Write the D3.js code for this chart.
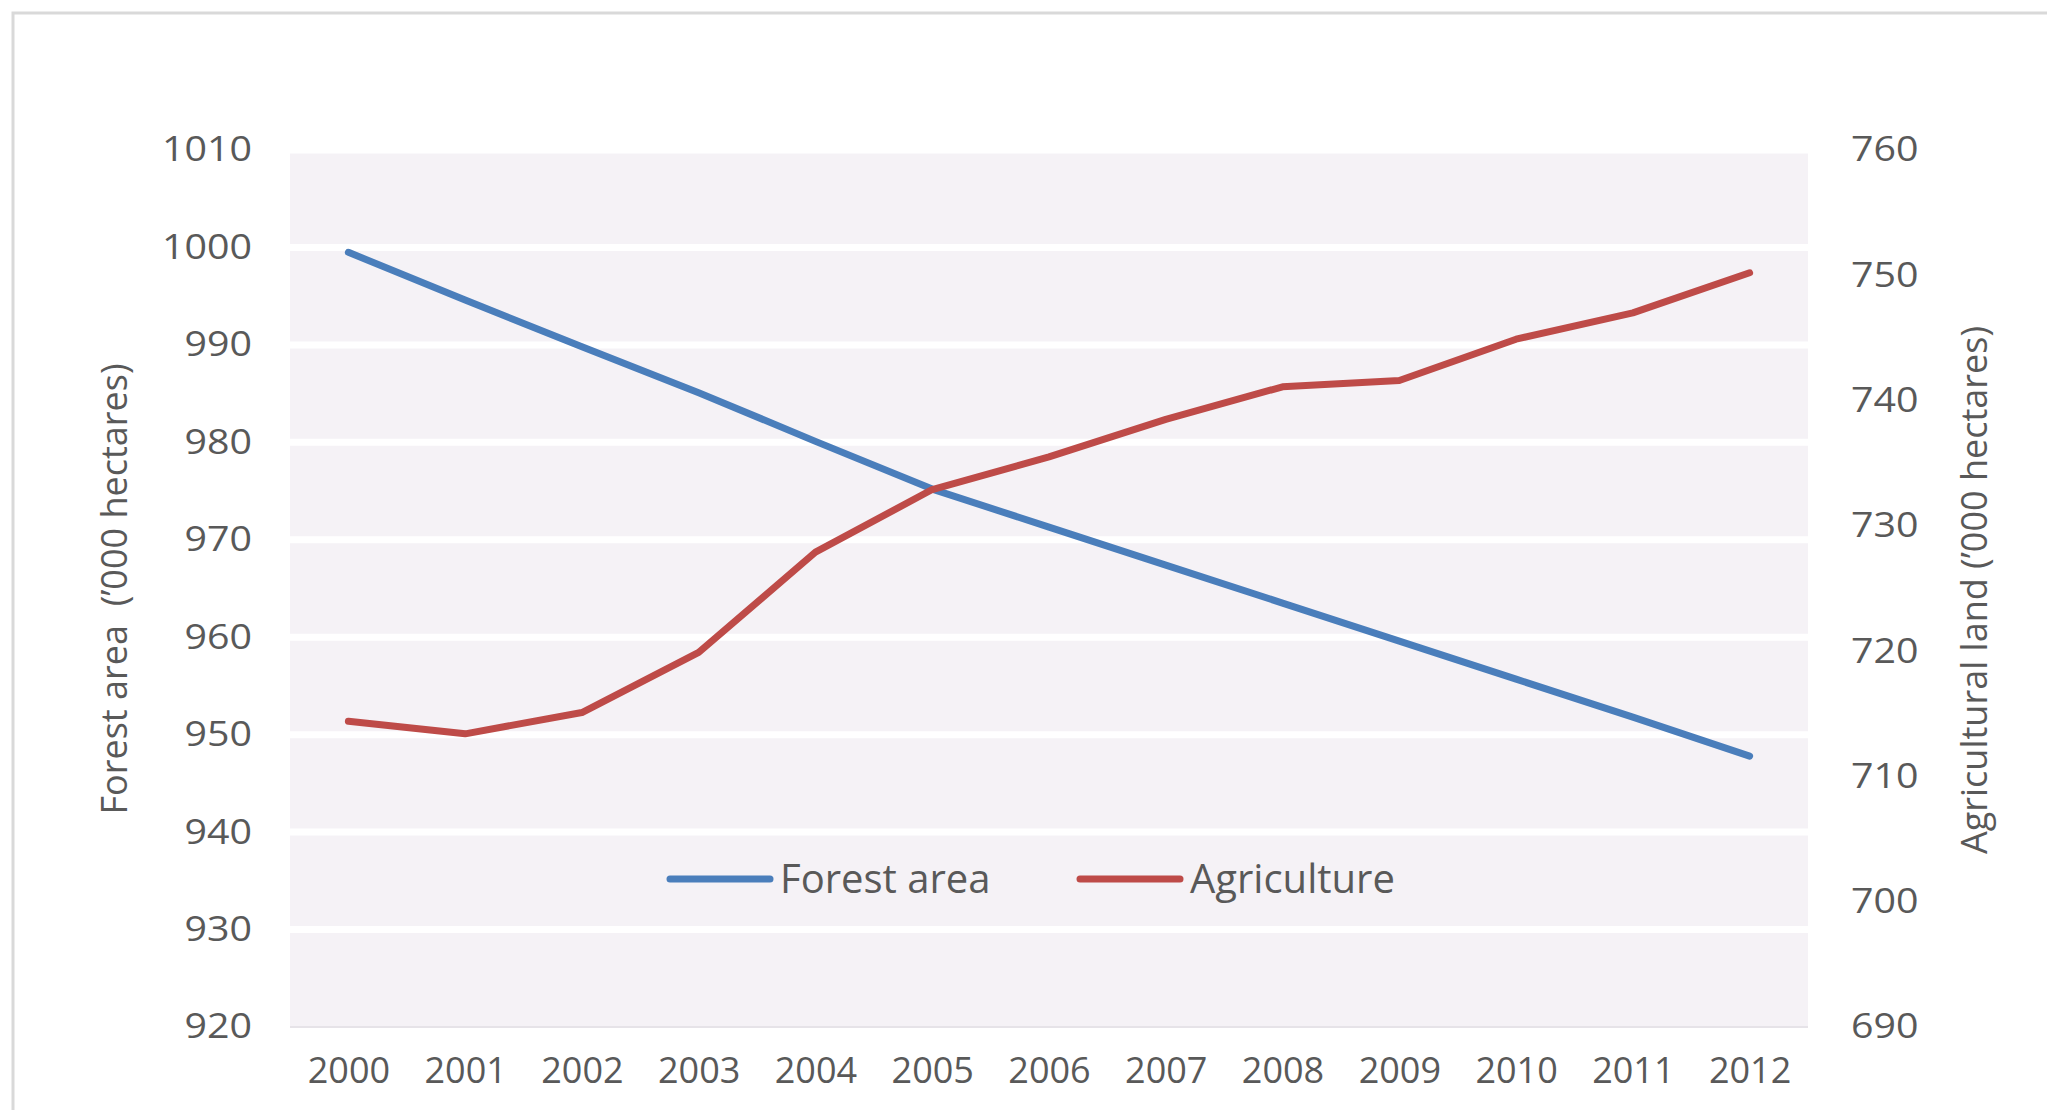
<!DOCTYPE html>
<meta charset="utf-8">
<style>
body {
  margin: 0;
  background: #fff;
  font-family: "Open Sans", "DejaVu Sans", sans-serif;
}
.tick text {
  fill: #595959;
  font-size: 36px;
}
.yaxis .tick text {
  font-size: 34px;
}
.axis-title {
  fill: #595959;
  font-size: 36px;
}
.legend text {
  fill: #595959;
  font-size: 40px;
}
</style>
<body>
<script src="https://d3js.org/d3.v7.min.js"></script>
<script>

var width = 2047,
    height = 1110;

// data
var years = ["2000", "2001", "2002", "2003", "2004", "2005", "2006",
             "2007", "2008", "2009", "2010", "2011", "2012"];
var forest = [999.5, 994.6, 989.8, 985.1, 980.1, 975.2, 971.3,
              967.4, 963.5, 959.6, 955.7, 951.8, 947.8];
var agriculture = [714.4, 713.4, 715.1, 719.9, 727.9, 732.9, 735.5,
                   738.5, 741.1, 741.6, 744.9, 747.0, 750.2];
var leftTicks = [920, 930, 940, 950, 960, 970, 980, 990, 1000, 1010];
var rightTicks = [690, 700, 710, 720, 730, 740, 750, 760];
var seriesNames = ["Forest area", "Agriculture"];
var colors = ["#4a7ebb", "#be4b48"];

var plot = {left: 290, right: 1808, top: 150, bottom: 1027};

var svg = d3.select("body").append("svg")
    .attr("width", width)
    .attr("height", height);

// outer frame
svg.append("rect")
    .attr("x", 13)
    .attr("y", 13)
    .attr("width", width)
    .attr("height", height)
    .attr("fill", "none")
    .attr("stroke", "#d9d9d9")
    .attr("stroke-width", 3);

var x = d3.scalePoint()
    .domain(years)
    .range([plot.left, plot.right])
    .padding(0.5);

var yLeft = d3.scaleLinear()
    .domain([920, 1010])
    .range([plot.bottom, plot.top]);

var yRight = d3.scaleLinear()
    .domain([690, 760])
    .range([plot.bottom, plot.top]);

// plot background
svg.append("rect")
    .attr("x", plot.left)
    .attr("y", plot.top)
    .attr("width", plot.right - plot.left)
    .attr("height", plot.bottom - plot.top)
    .attr("fill", "#f5f2f6");

// white gridlines
svg.append("g")
  .selectAll("line")
  .data(leftTicks.slice(1))
  .join("line")
    .attr("x1", plot.left)
    .attr("x2", plot.right)
    .attr("y1", function(d) { return yLeft(d); })
    .attr("y2", function(d) { return yLeft(d); })
    .attr("stroke", "#ffffff")
    .attr("stroke-width", 7);

svg.append("line")
    .attr("x1", plot.left)
    .attr("x2", plot.right)
    .attr("y1", plot.bottom)
    .attr("y2", plot.bottom)
    .attr("stroke", "#e6e3e8")
    .attr("stroke-width", 2);

var leftAxis = svg.append("g")
    .attr("class", "yaxis")
    .attr("transform", "translate(" + (plot.left - 38) + ",0)")
    .call(d3.axisLeft(yLeft).tickValues(leftTicks).tickFormat(d3.format("d"))
      .tickSize(0).tickPadding(0));

var rightAxis = svg.append("g")
    .attr("class", "yaxis")
    .attr("transform", "translate(" + (plot.right + 43) + ",0)")
    .call(d3.axisRight(yRight).tickValues(rightTicks).tickFormat(d3.format("d"))
      .tickSize(0).tickPadding(0));

var bottomAxis = svg.append("g")
    .attr("transform", "translate(0," + (plot.bottom + 30) + ")")
    .call(d3.axisBottom(x).tickSize(0).tickPadding(0));

[leftAxis, rightAxis, bottomAxis].forEach(function(a) {
  a.select(".domain").remove();
  a.attr("font-family", null).attr("font-size", null);
});

// the y labels in the picture are drawn wide
svg.selectAll(".yaxis .tick text")
    .attr("textLength", function() { return this.textContent.length * 22.5; })
    .attr("lengthAdjust", "spacingAndGlyphs");

svg.append("text")
    .attr("class", "axis-title")
    .attr("text-anchor", "middle")
    .attr("transform", "translate(114,589)rotate(-90)")
    .attr("dy", "0.35em")
    .style("white-space", "pre")
    .text("Forest area  (\u2019000 hectares)");

svg.append("text")
    .attr("class", "axis-title")
    .attr("text-anchor", "middle")
    .attr("transform", "translate(1974,590)rotate(-90)")
    .attr("dy", "0.35em")
    .text("Agricultural land (\u2019000 hectares)");

var line = function(scale) {
  return d3.line()
      .x(function(d, i) { return x(years[i]); })
      .y(function(d) { return scale(d); });
};

svg.append("path")
    .datum(forest)
    .attr("fill", "none")
    .attr("stroke", colors[0])
    .attr("stroke-width", 7)
    .attr("stroke-linecap", "round")
    .attr("stroke-linejoin", "round")
    .attr("d", line(yLeft));

svg.append("path")
    .datum(agriculture)
    .attr("fill", "none")
    .attr("stroke", colors[1])
    .attr("stroke-width", 7)
    .attr("stroke-linecap", "round")
    .attr("stroke-linejoin", "round")
    .attr("d", line(yRight));

// legend inside the plot
var legend = svg.append("g")
    .attr("class", "legend")
  .selectAll("g")
  .data(seriesNames)
  .join("g")
    .attr("transform", function(d, i) { return "translate(" + (670 + i * 410) + ",879)"; });

legend.append("line")
    .attr("x1", 0)
    .attr("x2", 100)
    .attr("stroke", function(d, i) { return colors[i]; })
    .attr("stroke-width", 7)
    .attr("stroke-linecap", "round");

legend.append("text")
    .attr("x", 110)
    .attr("dy", "0.35em")
    .text(function(d) { return d; });

</script>
